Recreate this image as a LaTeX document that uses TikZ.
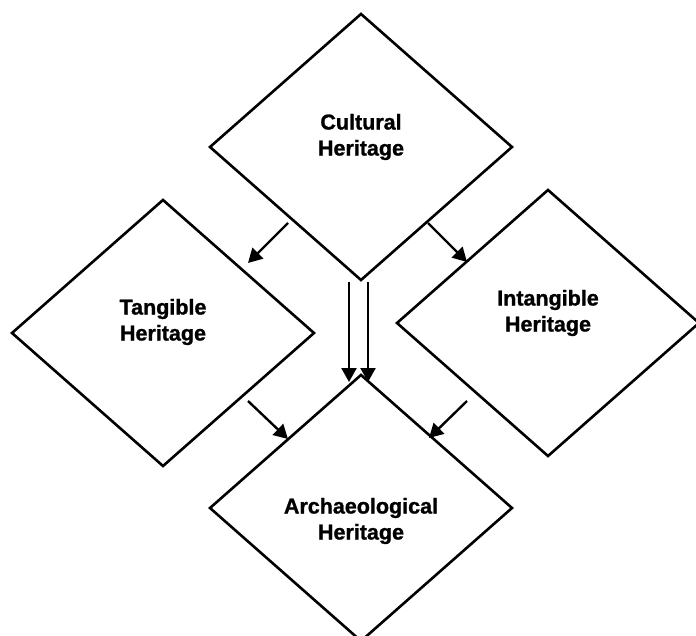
\documentclass[tikz,border=0pt]{standalone}
\usepackage{fontspec}
\setmainfont{Liberation Sans}[BoldFeatures={FakeBold=1.2}]
\usetikzlibrary{shapes.geometric,arrows.meta}
\begin{document}
\begin{tikzpicture}[x=1pt,y=-1pt,
  dia/.style={draw,diamond,line width=2.6pt,inner sep=0pt,outer sep=0pt,minimum width=302pt,minimum height=266pt},
  lbl/.style={font=\bfseries\fontsize{21.5}{26}\selectfont,align=center,inner sep=0pt},
  arr/.style={line width=2.4pt,-{Triangle[length=14pt,width=15pt]}}]
\useasboundingbox (0,0) rectangle (696,636);
\clip (0,0) rectangle (696,636);
% diamonds
\node[dia] (ct) at (361,147) {};
\node[dia] (tg) at (163,333) {};
\node[dia] (it) at (548,323) {};
\node[dia] (ar) at (361,508) {};
% labels
\node[lbl] (lct) at (361,137) {Cultural\\Heritage};
\node[lbl] (ltg) at (163,322) {Tangible\\Heritage};
\node[lbl] (lit) at (548,313) {Intangible\\Heritage};
\node[lbl] (lar) at (361,521) {Archaeological\\Heritage};
% arrow ends
\coordinate (a1s) at (288,223); \coordinate (a1e) at (248,263);
\coordinate (a2s) at (428,223); \coordinate (a2e) at (467,262);
\coordinate (a3s) at (349,282); \coordinate (a3e) at (349,382);
\coordinate (a4s) at (368,282); \coordinate (a4e) at (368,382);
\coordinate (a5s) at (248,401); \coordinate (a5e) at (288,439);
\coordinate (a6s) at (467,401); \coordinate (a6e) at (429,438);
\draw[arr] (a1s) -- (a1e);
\draw[arr] (a2s) -- (a2e);
\draw[arr] (a3s) -- (a3e);
\draw[arr] (a4s) -- (a4e);
\draw[arr] (a5s) -- (a5e);
\draw[arr] (a6s) -- (a6e);
\end{tikzpicture}
\end{document}
